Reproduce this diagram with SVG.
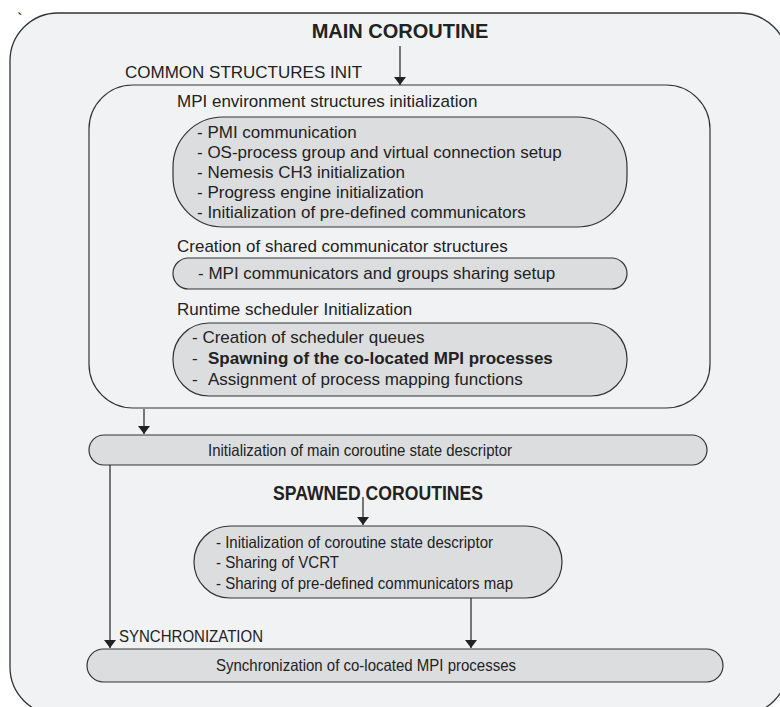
<svg xmlns="http://www.w3.org/2000/svg" width="780" height="707" viewBox="0 0 780 707">
<defs>
<marker id="arr" viewBox="0 0 8 12" refX="8" refY="6" markerWidth="8" markerHeight="12" markerUnits="userSpaceOnUse" orient="auto">
<path d="M0,0 L8,6 L0,12 z" fill="#222"/>
</marker>
<style>
text{font-family:"Liberation Sans",Arial,sans-serif;fill:#222;font-size:17px}
.b{font-weight:bold}
.h{font-weight:bold;font-size:20px}
.n{font-size:16.5px}
.frame{fill:#f1f2f4;stroke:#333;stroke-width:1.3}
.box{fill:#f1f2f4;stroke:#333;stroke-width:1.2}
.pill{fill:#dcdddf;stroke:#333;stroke-width:1.2}
.c line{stroke:#222;stroke-width:1.2;marker-end:url(#arr)}
</style>
</defs>
<rect width="780" height="707" fill="#fff"/>
<g id="main">
<rect class="frame" x="10" y="13" width="778" height="702" rx="48" ry="48"/>
<text x="17" y="25" font-size="12">`</text>
<text class="h" x="400" y="38" text-anchor="middle">MAIN COROUTINE</text>
</g>
<g id="common">
<text x="125" y="78">COMMON STRUCTURES INIT</text>
<rect class="box" x="89" y="85" width="621" height="323" rx="44" ry="44"/>
</g>
<g id="mpienv">
<text x="177" y="107">MPI environment structures initialization</text>
<rect class="pill" x="173" y="117" width="454" height="110" rx="50" ry="50"/>
<text x="197" y="138">- PMI communication</text>
<text x="197" y="158">- OS-process group and virtual connection setup</text>
<text x="197" y="178">- Nemesis CH3 initialization</text>
<text x="197" y="198">- Progress engine initialization</text>
<text x="197" y="218">- Initialization of pre-defined communicators</text>
</g>
<g id="shared">
<text x="177" y="252">Creation of shared communicator structures</text>
<rect class="pill" x="173" y="258" width="454" height="31" rx="15.5" ry="15.5"/>
<text x="198" y="279">- MPI communicators and groups sharing setup</text>
</g>
<g id="sched">
<text x="177" y="315">Runtime scheduler Initialization</text>
<rect class="pill" x="173" y="323" width="454" height="73" rx="36" ry="36"/>
<text x="192" y="343">- Creation of scheduler queues</text>
<text x="192" y="364">-</text>
<text class="b" x="208" y="364">Spawning of the co-located MPI processes</text>
<text x="192" y="385">-</text>
<text x="208" y="385">Assignment of process mapping functions</text>
</g>
<g id="maindesc">
<rect class="pill" x="89" y="435" width="618" height="30" rx="15" ry="15"/>
<text class="n" x="208" y="456" textLength="304" lengthAdjust="spacingAndGlyphs">Initialization of main coroutine state descriptor</text>
</g>
<g id="spawned">
<text class="h" x="378" y="500" text-anchor="middle" font-size="18" textLength="210" lengthAdjust="spacingAndGlyphs">SPAWNED COROUTINES</text>
<rect class="pill" x="194" y="526" width="368" height="72" rx="36" ry="36"/>
<text class="n" x="216" y="548" textLength="277" lengthAdjust="spacingAndGlyphs">- Initialization of coroutine state descriptor</text>
<text class="n" x="216" y="568" textLength="123" lengthAdjust="spacingAndGlyphs">- Sharing of VCRT</text>
<text class="n" x="216" y="589" textLength="297" lengthAdjust="spacingAndGlyphs">- Sharing of pre-defined communicators map</text>
</g>
<g id="sync">
<text class="n" x="119" y="642" textLength="144" lengthAdjust="spacingAndGlyphs">SYNCHRONIZATION</text>
<rect class="pill" x="87" y="649" width="636" height="33" rx="16.5" ry="16.5"/>
<text class="n" x="216" y="671" textLength="300" lengthAdjust="spacingAndGlyphs">Synchronization of co-located MPI processes</text>
</g>
<g class="c" id="connectors">
<line x1="400" y1="46" x2="400" y2="85"/>
<line x1="144" y1="409" x2="144" y2="434"/>
<line x1="110" y1="465" x2="110" y2="648"/>
<line x1="363" y1="497" x2="363" y2="525"/>
<line x1="471" y1="598" x2="471" y2="648"/>
</g>
</svg>
